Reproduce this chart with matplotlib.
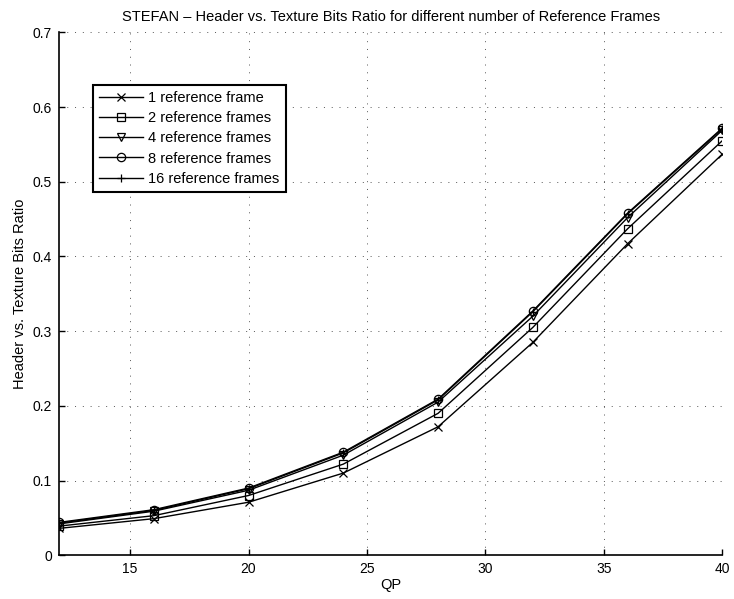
import matplotlib
matplotlib.use("Agg")
import matplotlib.pyplot as plt

qp = [12, 16, 20, 24, 28, 32, 36, 40]

ref1 = [0.036, 0.049, 0.071, 0.110, 0.172, 0.285, 0.417, 0.537]
ref2 = [0.039, 0.053, 0.080, 0.122, 0.190, 0.305, 0.437, 0.555]
ref4 = [0.042, 0.059, 0.087, 0.134, 0.205, 0.320, 0.452, 0.569]
ref8 = [0.044, 0.061, 0.090, 0.138, 0.209, 0.327, 0.458, 0.572]
ref16 = [0.043, 0.060, 0.089, 0.137, 0.208, 0.326, 0.457, 0.571]

labels = ["1 reference frame", "2 reference frames", "4 reference frames",
          "8 reference frames", "16 reference frames"]
markers = ["x", "s", "v", "o", "+"]

plt.rcParams["font.family"] = ["Liberation Sans", "DejaVu Sans"]

fig = plt.figure(figsize=(7.34, 5.99), dpi=100)
ax = fig.add_axes([0.0804, 0.073, 0.9037, 0.873])

for vals, lab, m in zip([ref1, ref2, ref4, ref8, ref16], labels, markers):
    ax.plot(qp, vals, color="black", lw=1.0, marker=m, markersize=6,
            markerfacecolor="none", markeredgecolor="black", markeredgewidth=0.9,
            label=lab)

ax.set_xlim(12, 40)
ax.set_ylim(0, 0.7)
ax.set_xticks([15, 20, 25, 30, 35, 40])
ax.set_yticks([0, 0.1, 0.2, 0.3, 0.4, 0.5, 0.6, 0.7])
ax.set_yticklabels(["0", "0.1", "0.2", "0.3", "0.4", "0.5", "0.6", "0.7"])
ax.tick_params(direction="in", length=4, width=1, labelsize=10, pad=5)
ax.grid(True, linestyle=(0, (1, 7)), color="#555555", linewidth=0.7)
ax.spines[["top", "right"]].set_visible(False)
for s in ["left", "bottom"]:
    ax.spines[s].set_linewidth(1.2)

ax.set_title("STEFAN \u2013 Header vs. Texture Bits Ratio for different number of Reference Frames",
             fontsize=10.5, pad=8)
ax.set_xlabel("QP", fontsize=10.5, labelpad=1)
ax.set_ylabel("Header vs. Texture Bits Ratio", fontsize=10.5, labelpad=4)

leg = ax.legend(loc="upper left", bbox_to_anchor=(0.0508, 0.9), fontsize=10.5,
                frameon=True, fancybox=False, edgecolor="black", framealpha=1,
                handlelength=3.0, handletextpad=0.34, labelspacing=0.42,
                borderpad=0.45, borderaxespad=0)
leg.get_frame().set_linewidth(1.5)

fig.savefig("out.png", dpi=100)
